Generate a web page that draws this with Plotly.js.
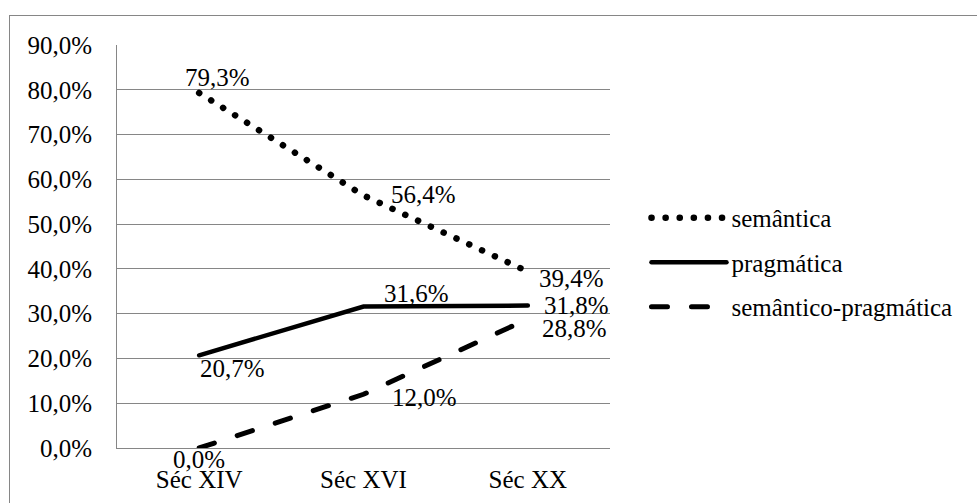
<!DOCTYPE html>
<html>
<head>
<meta charset="utf-8">
<script src="https://cdn.plot.ly/plotly-3.0.1.min.js"></script>
<style>
  html, body { margin: 0; padding: 0; background: #fff; overflow: hidden; }
  #wrap { position: relative; width: 977px; height: 503px; overflow: hidden; }
  #frame { position: absolute; left: 9px; top: 15px; width: 2000px; height: 2000px;
           border: 1px solid #868686; box-sizing: border-box; }
  #chart { position: absolute; left: 0; top: 0; width: 977px; height: 503px; }
  .js-line, .legendlines path { stroke-linecap: round !important; }
</style>
</head>
<body>
<div id="wrap">
  <div id="frame"></div>
  <div id="chart"></div>
</div>
<script>
// ---- data ----
const categories = ["Séc XIV", "Séc XVI", "Séc XX"];
const seriesNames = ["semântica", "pragmática", "semântico-pragmática"];
const semantica = [79.3, 56.4, 39.4];
const pragmatica = [20.7, 31.6, 31.8];
const semanticoPragmatica = [0.0, 12.0, 28.8];
const yTicks = [0, 10, 20, 30, 40, 50, 60, 70, 80, 90];

// ---- styles ----
const FONT = "'Liberation Serif', 'Times New Roman', Times, serif";
const FS = 25;
const dashes = ["0.1px,14px", "solid", "16px,24px"];
const widths = [6.5, 4.5, 5];
// label offsets (px) per series per point: [xshift, yshift]
const labelOffsets = [
  [[18, 15], [60, 1], [44, -7]],
  [[33, -13], [53, 13], [49, 0]],
  [[0, -11], [61, -3], [47, -9]]
];

const allSeries = [semantica, pragmatica, semanticoPragmatica];
const fmt = v => v.toFixed(1).replace(".", ",") + "%";

const traces = allSeries.map((vals, i) => ({
  type: "scatter", mode: "lines", x: categories, y: vals,
  name: seriesNames[i], legendgroup: "g" + i,
  line: { color: "#000", width: widths[i], dash: dashes[i] },
  hoverinfo: "skip"
}));

const annotations = [];
allSeries.forEach((vals, i) => {
  vals.forEach((v, j) => {
    annotations.push({
      x: categories[j], y: v, xref: "x", yref: "y",
      text: fmt(v), showarrow: false, xanchor: "center", yanchor: "middle",
      xshift: labelOffsets[i][j][0], yshift: labelOffsets[i][j][1],
      font: { family: FONT, size: FS, color: "#000" }
    });
  });
});

const layout = {
  width: 977, height: 503,
  paper_bgcolor: "rgba(0,0,0,0)", plot_bgcolor: "rgba(0,0,0,0)",
  margin: { l: 117, r: 367, t: 45, b: 55, pad: 0 },
  font: { family: FONT, size: FS, color: "#000" },
  separators: ",.", showlegend: true,
  legend: {
    x: 1.074, y: 0.628, xanchor: "left", yanchor: "top",
    font: { family: FONT, size: FS, color: "#000" },
    itemwidth: 75, tracegroupgap: 9, traceorder: "grouped", bgcolor: "rgba(0,0,0,0)"
  },
  xaxis: {
    type: "category", range: [-0.5, 2.5], showgrid: false,
    showline: true, linecolor: "#868686", linewidth: 1, ticks: "", zeroline: false,
    ticklabelstandoff: 9,
    tickfont: { family: FONT, size: FS, color: "#000" }, fixedrange: true
  },
  yaxis: {
    range: [0, 90], tickvals: yTicks, ticktext: yTicks.map(fmt),
    showgrid: true, gridcolor: "#868686", gridwidth: 1,
    showline: true, linecolor: "#868686", linewidth: 1, zeroline: false, ticks: "",
    ticklabelstandoff: 19,
    tickfont: { family: FONT, size: FS, color: "#000" }, fixedrange: true
  },
  annotations: annotations
};

Plotly.newPlot("chart", traces, layout, { displayModeBar: false, staticPlot: true });
</script>
</body>
</html>
